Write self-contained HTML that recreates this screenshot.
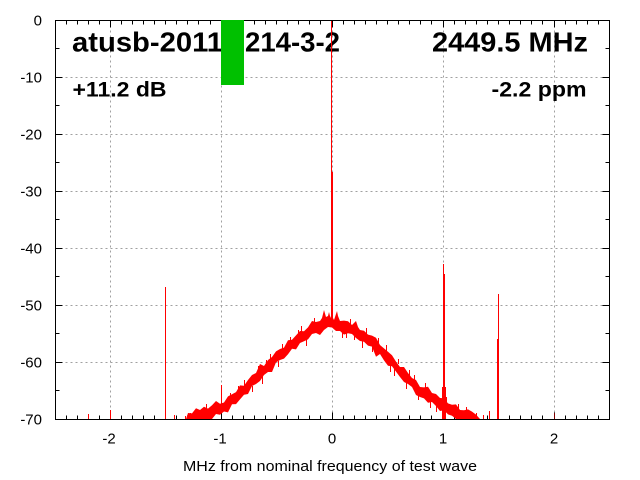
<!DOCTYPE html>
<html>
<head>
<meta charset="utf-8">
<style>
html,body{margin:0;padding:0;background:#fff;}
svg{display:block;}
text{font-family:"Liberation Sans",Arial,sans-serif;fill:#000;}
</style>
</head>
<body>
<svg width="640" height="480" viewBox="0 0 640 480" xmlns="http://www.w3.org/2000/svg">
<rect x="0" y="0" width="640" height="480" fill="#fff"/>

<!-- grid -->
<g stroke="#a0a0a0" stroke-width="1" stroke-dasharray="2,3" fill="none">
  <path d="M110.5 20.5V419.5M221.5 20.5V419.5M332.5 20.5V419.5M443.5 20.5V419.5M554.5 20.5V419.5"/>
  <path d="M55.5 77.5H609.5M55.5 134.5H609.5M55.5 191.5H609.5M55.5 248.5H609.5M55.5 305.5H609.5M55.5 362.5H609.5"/>
</g>

<!-- ticks -->
<g stroke="#000" stroke-width="1" fill="none">
  <path d="M66.5 419.5v-4M77.5 419.5v-4M88.5 419.5v-4M99.5 419.5v-4M121.5 419.5v-4M132.5 419.5v-4M143.5 419.5v-4M154.5 419.5v-4M165.5 419.5v-4M176.5 419.5v-4M187.5 419.5v-4M198.5 419.5v-4M210.5 419.5v-4M232.5 419.5v-4M243.5 419.5v-4M254.5 419.5v-4M265.5 419.5v-4M276.5 419.5v-4M287.5 419.5v-4M298.5 419.5v-4M309.5 419.5v-4M320.5 419.5v-4M343.5 419.5v-4M354.5 419.5v-4M365.5 419.5v-4M376.5 419.5v-4M387.5 419.5v-4M398.5 419.5v-4M409.5 419.5v-4M420.5 419.5v-4M431.5 419.5v-4M454.5 419.5v-4M465.5 419.5v-4M476.5 419.5v-4M487.5 419.5v-4M498.5 419.5v-4M509.5 419.5v-4M520.5 419.5v-4M531.5 419.5v-4M542.5 419.5v-4M565.5 419.5v-4M576.5 419.5v-4M587.5 419.5v-4M598.5 419.5v-4"/>
  <path d="M66.5 20.5v4M77.5 20.5v4M88.5 20.5v4M99.5 20.5v4M121.5 20.5v4M132.5 20.5v4M143.5 20.5v4M154.5 20.5v4M165.5 20.5v4M176.5 20.5v4M187.5 20.5v4M198.5 20.5v4M210.5 20.5v4M232.5 20.5v4M243.5 20.5v4M254.5 20.5v4M265.5 20.5v4M276.5 20.5v4M287.5 20.5v4M298.5 20.5v4M309.5 20.5v4M320.5 20.5v4M343.5 20.5v4M354.5 20.5v4M365.5 20.5v4M376.5 20.5v4M387.5 20.5v4M398.5 20.5v4M409.5 20.5v4M420.5 20.5v4M431.5 20.5v4M454.5 20.5v4M465.5 20.5v4M476.5 20.5v4M487.5 20.5v4M498.5 20.5v4M509.5 20.5v4M520.5 20.5v4M531.5 20.5v4M542.5 20.5v4M565.5 20.5v4M576.5 20.5v4M587.5 20.5v4M598.5 20.5v4"/>
  <path d="M110.5 419.5v-7M221.5 419.5v-7M332.5 419.5v-7M443.5 419.5v-7M554.5 419.5v-7M110.5 20.5v7M221.5 20.5v7M332.5 20.5v7M443.5 20.5v7M554.5 20.5v7"/>
  <path d="M55.5 77.5h7M55.5 134.5h7M55.5 191.5h7M55.5 248.5h7M55.5 305.5h7M55.5 362.5h7M55.5 48.5h4M55.5 105.5h4M55.5 162.5h4M55.5 219.5h4M55.5 276.5h4M55.5 333.5h4M55.5 390.5h4"/>
  <path d="M609.5 77.5h-7M609.5 134.5h-7M609.5 191.5h-7M609.5 248.5h-7M609.5 305.5h-7M609.5 362.5h-7M609.5 48.5h-4M609.5 105.5h-4M609.5 162.5h-4M609.5 219.5h-4M609.5 276.5h-4M609.5 333.5h-4M609.5 390.5h-4"/>
</g>

<!-- y tick labels -->
<g font-size="15" text-anchor="end">
  <text x="42" y="25.5">0</text>
  <text x="42" y="82.5">-10</text>
  <text x="42" y="139.5">-20</text>
  <text x="42" y="196.5">-30</text>
  <text x="42" y="253.5">-40</text>
  <text x="42" y="310.5">-50</text>
  <text x="42" y="367.5">-60</text>
  <text x="42" y="424.5">-70</text>
</g>
<!-- x tick labels -->
<g font-size="15" text-anchor="middle">
  <text x="109" y="443.5">-2</text>
  <text x="220" y="443.5">-1</text>
  <text x="332" y="443.5">0</text>
  <text x="443" y="443.5">1</text>
  <text x="554" y="443.5">2</text>
</g>
<text x="183" y="471" font-size="15" textLength="294" lengthAdjust="spacingAndGlyphs">MHz from nominal frequency of test wave</text>

<!-- annotation text -->
<g font-weight="bold">
  <text x="72" y="51.5" font-size="28" textLength="151" lengthAdjust="spacingAndGlyphs">atusb-2011</text>
  <text x="245" y="51.5" font-size="28" textLength="95" lengthAdjust="spacingAndGlyphs">214-3-2</text>
  <text x="432" y="51.5" font-size="28" textLength="156" lengthAdjust="spacingAndGlyphs">2449.5 MHz</text>
  <text x="72.5" y="96.5" font-size="21" textLength="94" lengthAdjust="spacingAndGlyphs">+11.2 dB</text>
  <text x="491.5" y="96.5" font-size="21" textLength="95" lengthAdjust="spacingAndGlyphs">-2.2 ppm</text>
</g>

<!-- data -->
<g fill="#ff0000" stroke="none">
  <polygon points="186,419 188,413 192,413.4 196,408.2 200,410 204,406.8 208,408.6 212,405.3 216,401 220,403.7 224,402.5 228,396.4 232,394.3 236,392.1 240,385.4 244,385.8 248,380 252,375 256,373 260,364 264,366 268,360 272,357 276,351.4 280,349 284,347.6 288,340.2 292,339.8 296,335.4 300,331 304,331.2 308,327.4 312,321 316,322 320,321 322,318 324,310 326,317 328,316 329,312 330,316 331,318 333,318 334,320 336,314 337,311 338,316 340,321 344,320.6 348,321.2 352,325 356,321 358,327 360,330 364,330.8 368,334.6 372,335.6 376,337.8 380,345 384,348.4 388,351.8 392,355.2 396,361.6 400,367 404,367 408,373 412,378 416,380 420,387 424,387.4 428,386.8 432,393 436,394 440,398 444,398.2 448,403.4 452,404.8 456,404.4 460,410 464,410.2 468,409.4 472,411.6 476,414.6 480,419 456,419 452,415.8 448,414.4 444,410.2 440,411 436,406 432,402 428,402.8 424,398.4 420,397 416,395 412,387 408,384 404,382 400,377 396,371.6 392,366.2 388,365.8 384,360.4 380,354 376,356.8 372,346.6 368,345.6 364,341.8 360,341 356,338 352,334 348,333.2 344,334.6 340,331 336,331 332,327.5 328,327 324,330 320,335 316,333 312,334 308,339.4 304,341.2 300,343 296,349.4 292,348.8 288,354.2 284,358.6 280,360 276,362.4 272,372 268,372 264,375 260,381 256,384 252,386 248,394 244,394.8 240,399.4 236,404.1 232,404.3 228,412.4 224,411.5 220,414.7 216,414 212,419"/>
  <rect x="331" y="20" width="1" height="152"/>
  <rect x="331" y="172" width="2" height="150"/>
  <rect x="443" y="264" width="1" height="12"/>
  <rect x="443" y="274" width="2" height="145"/>
  <rect x="442" y="387" width="4" height="32"/>
  <rect x="498" y="294" width="1" height="46"/>
  <rect x="497" y="339" width="2" height="80"/>
  <rect x="165" y="287" width="1" height="132"/>
  <rect x="221" y="385" width="1" height="20"/>
  <rect x="88" y="414" width="1" height="5"/>
  <rect x="110" y="410" width="1" height="9"/>
  <rect x="174" y="415" width="1" height="4"/>
  <rect x="185" y="416" width="1" height="3"/>
  <rect x="190" y="413" width="1" height="6"/>
  <rect x="476" y="413" width="1" height="6"/>
  <rect x="483" y="415" width="1" height="4"/>
  <rect x="489" y="411" width="1" height="8"/>
  <rect x="554" y="413" width="1" height="6" fill="#800000"/>
</g>
<g stroke="#ff0000" stroke-width="1" fill="none">
  <path d="M301.5 326v8M354.5 330v10M386.5 345v10M314.5 318v8M282.5 344v8M409.5 370v8M425.5 383v8M244.5 380v8M266.5 360v8M394.5 368v8M436.5 404v8M346.5 330v8M262.5 376v8M372.5 344v8"/>
  <path d="M206.5 404v6M230.5 393v5M238.5 386v5M252.5 386v6M258.5 366v6M270.5 354v6M278.5 361v6M290.5 337v5M298.5 330v5M306.5 338v8M342.5 330v8M350.5 319v6M362.5 340v8M366.5 328v6M378.5 338v5M390.5 365v7M398.5 359v5M406.5 382v7M414.5 375v6M418.5 394v6M430.5 402v6M446.5 397v5M458.5 404v5M466.5 407v4"/>
</g>

<!-- border -->
<rect x="55.5" y="20.5" width="554" height="399" fill="none" stroke="#000" stroke-width="1"/>

<!-- green marker -->
<rect x="221" y="20" width="23" height="65" fill="#00c000"/>
</svg>
</body>
</html>
